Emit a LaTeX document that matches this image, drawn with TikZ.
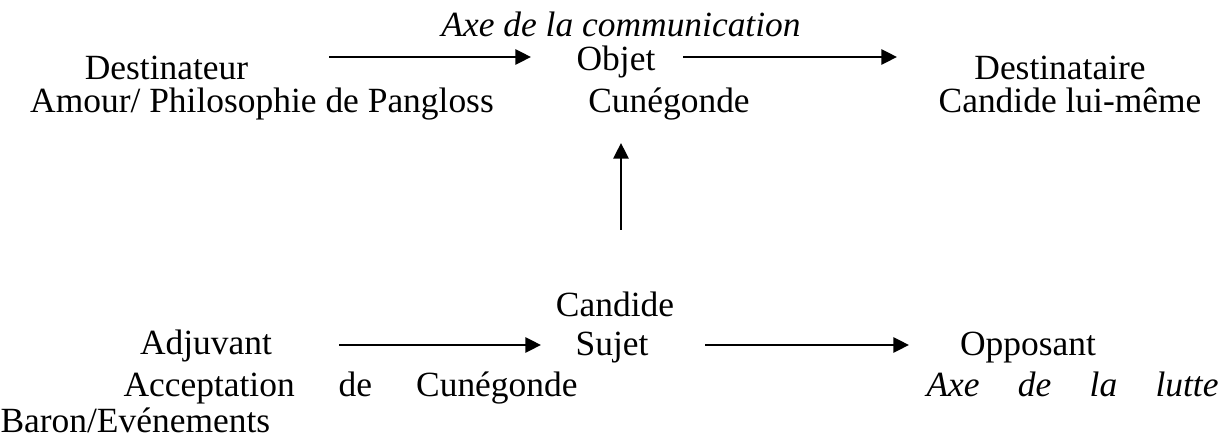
\documentclass[tikz,border=0pt]{standalone}
\usepackage{fontspec}
\setmainfont{Liberation Serif}
\usetikzlibrary{arrows.meta}
\newlength\pxu
\setlength\pxu{0.381pt}
\begin{document}
\begin{tikzpicture}[x=0.381pt,y=-0.381pt,
  txt/.style={inner sep=0pt,anchor=base,font=\fontsize{13.5}{16}\selectfont},
  itxt/.style={inner sep=0pt,anchor=base,font=\fontsize{13.5}{16}\selectfont\itshape},
  arr/.style={line width=1pt,-{Triangle[length=6pt,width=5.8pt]}}]
\useasboundingbox (0,0) rectangle (1221,439);
% top row
\node[itxt] (axecomm) at (621,37) {Axe de la communication};
\node[txt] (destinateur) at (166.5,80) {Destinateur};
\node[txt] (amour) at (262,113) {Amour/ Philosophie de Pangloss};
\node[txt] (objet) at (616,71) {Objet};
\node[txt] (cunegonde) at (669,113) {Cunégonde};
\node[txt] (destinataire) at (1060,80) {Destinataire};
\node[txt] (candidelm) at (1070,113) {Candide lui-même};
% bottom row
\node[txt] (candide) at (615,317) {Candide};
\node[txt] (sujet) at (612,356) {Sujet};
\node[txt] (adjuvant) at (206,355) {Adjuvant};
\node[txt] (opposant) at (1028,356) {Opposant};
\node[txt,anchor=base west] (acceptation) at (123,397) {\makebox[454\pxu][s]{Acceptation de Cunégonde}};
\node[itxt,anchor=base west] (axelutte) at (926,397) {\makebox[292\pxu][s]{Axe de la lutte}};
\node[txt,anchor=base west] (baron) at (0,433) {Baron/Evénements};
% arrow ends
\coordinate (t1s) at (329,57);
\coordinate (t1e) at (531,57);
\coordinate (t2s) at (683,57);
\coordinate (t2e) at (897,57);
\coordinate (vs) at (621,230);
\coordinate (ve) at (621,143);
\coordinate (b1s) at (339,345);
\coordinate (b1e) at (541,345);
\coordinate (b2s) at (705,345);
\coordinate (b2e) at (909,345);
\draw[arr] (t1s) -- (t1e);
\draw[arr] (t2s) -- (t2e);
\draw[arr] (vs) -- (ve);
\draw[arr] (b1s) -- (b1e);
\draw[arr] (b2s) -- (b2e);
\end{tikzpicture}
\end{document}
